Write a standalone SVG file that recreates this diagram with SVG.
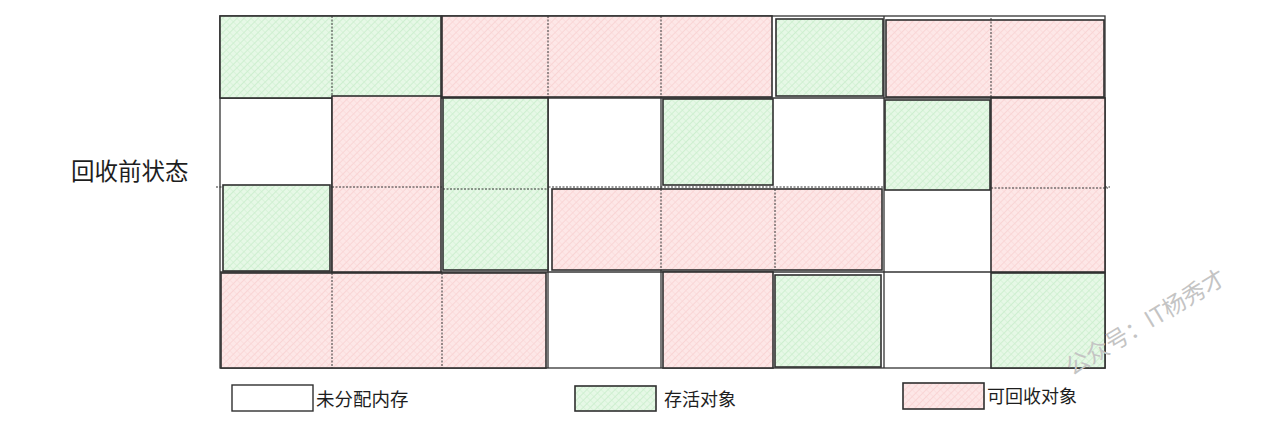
<svg xmlns="http://www.w3.org/2000/svg" width="1280" height="437" viewBox="0 0 1280 437">
<defs>
<pattern id="hg" width="5" height="5" patternUnits="userSpaceOnUse" patternTransform="rotate(45)">
<rect width="5" height="5" fill="#e6f8e6"/>
<line x1="0" y1="0" x2="0" y2="5" stroke="#bfeac2" stroke-width="1.2"/>
<line x1="0" y1="0" x2="5" y2="0" stroke="#cdefcf" stroke-width="1"/>
</pattern>
<pattern id="hp" width="5" height="5" patternUnits="userSpaceOnUse" patternTransform="rotate(45)">
<rect width="5" height="5" fill="#fde7e7"/>
<line x1="0" y1="0" x2="0" y2="5" stroke="#f7caca" stroke-width="1.2"/>
<line x1="0" y1="0" x2="5" y2="0" stroke="#f9d6d6" stroke-width="1"/>
</pattern>
</defs>
<style>
.g{fill:url(#hg);stroke:#2f2f2f;stroke-width:1.6}
.p{fill:url(#hp);stroke:#2f2f2f;stroke-width:1.6}
.w{fill:#ffffff;stroke:#2f2f2f;stroke-width:1.4}
.d{stroke:#333;stroke-width:1;stroke-dasharray:2 1.5;fill:none}
.frame{fill:none;stroke:#333;stroke-width:1.3}
.t{font-family:"Noto Sans CJK SC","Noto Sans",sans-serif;fill:#1e1e1e}
</style>
<rect width="1280" height="437" fill="#ffffff"/>
<g id="frame">
<rect class="frame" x="220" y="16" width="885" height="352"/>
<line class="frame" x1="220" y1="98" x2="1105" y2="98"/>
<line class="frame" x1="220" y1="272" x2="1105" y2="272"/>
<line class="frame" x1="332" y1="16" x2="332" y2="368"/>
<line class="frame" x1="548" y1="16" x2="548" y2="368"/>
<line class="frame" x1="661" y1="16" x2="661" y2="368"/>
<line class="frame" x1="884" y1="16" x2="884" y2="368"/>
<line class="d" x1="216" y1="187" x2="1110" y2="187"/>
</g>
<g id="b1"><rect class="g" x="220" y="16" width="221" height="82"/><line class="d" x1="332" y1="16" x2="332" y2="98"/></g>
<g id="b2"><rect class="p" x="442" y="16" width="330" height="81"/><line class="d" x1="548" y1="16" x2="548" y2="97"/><line class="d" x1="661" y1="16" x2="661" y2="97"/></g>
<g id="b3"><rect class="g" x="776" y="19" width="107" height="77"/></g>
<g id="b4"><rect class="p" x="886" y="20" width="218" height="77"/><line class="d" x1="991" y1="18" x2="991" y2="97"/></g>
<g id="b5"><rect class="p" x="332" y="96" width="109" height="176"/><line class="d" x1="332" y1="187" x2="441" y2="187"/></g>
<g id="b6"><rect class="g" x="443" y="98" width="105" height="172"/><line class="d" x1="443" y1="189" x2="548" y2="189"/></g>
<g id="b7"><rect class="g" x="663" y="99" width="110" height="86"/></g>
<g id="b8"><rect class="g" x="885" y="100" width="105" height="90"/></g>
<g id="b9"><rect class="p" x="991" y="98" width="114" height="174"/><line class="d" x1="991" y1="188" x2="1108" y2="188"/></g>
<g id="b10"><rect class="g" x="223" y="185" width="107" height="86"/></g>
<g id="b11"><rect class="p" x="552" y="189" width="330" height="81"/><line class="d" x1="661" y1="189" x2="661" y2="270"/><line class="d" x1="775" y1="189" x2="775" y2="270"/></g>
<g id="b12"><rect class="p" x="221" y="273" width="325" height="95"/><line class="d" x1="332" y1="273" x2="332" y2="368"/><line class="d" x1="442" y1="273" x2="442" y2="368"/></g>
<g id="b13"><rect class="p" x="663" y="272" width="110" height="96"/></g>
<g id="b14"><rect class="g" x="775" y="275" width="106" height="92"/></g>
<g id="b15"><rect class="g" x="991" y="273" width="114" height="95"/></g>
<g id="label"><text class="t" x="71" y="180" font-size="23.5">回收前状态</text></g>
<g id="legend">
<g id="lg-free"><rect class="w" x="232" y="385" width="81" height="26"/><text class="t" x="316" y="406" font-size="18.5">未分配内存</text></g>
<g id="lg-live"><rect class="g" x="575" y="386" width="81" height="25"/><text class="t" x="664" y="406" font-size="18">存活对象</text></g>
<g id="lg-garbage"><rect class="p" x="903" y="383" width="81" height="26"/><text class="t" x="987" y="403" font-size="18">可回收对象</text></g>
</g>
<text x="1072" y="376" font-size="23" fill="#c4c4c4" font-family="Noto Sans CJK SC, sans-serif" transform="rotate(-31 1072 376)">公众号：IT杨秀才</text>
</svg>
